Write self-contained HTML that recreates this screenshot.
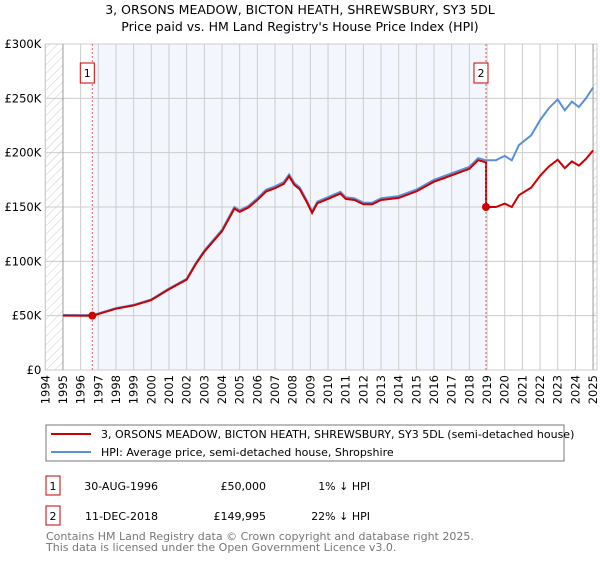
<!DOCTYPE html>
<html><head><meta charset="utf-8"><style>
body{margin:0;background:#fff;font-family:"DejaVu Sans","Liberation Sans",sans-serif;}
svg text{font-family:"DejaVu Sans","Liberation Sans",sans-serif;}
</style></head><body>
<svg id="c" width="600" height="560" xmlns="http://www.w3.org/2000/svg">
<defs><pattern id="hatch" width="6" height="6" patternUnits="userSpaceOnUse" patternTransform="rotate(45)"><line x1="0" y1="0" x2="0" y2="6" stroke="#ccc" stroke-width="1"/></pattern></defs>
<text x="300" y="14" text-anchor="middle" font-size="12.5" fill="#000">3, ORSONS MEADOW, BICTON HEATH, SHREWSBURY, SY3 5DL</text>
<text x="300" y="31" text-anchor="middle" font-size="12.5" fill="#000">Price paid vs. HM Land Registry's House Price Index (HPI)</text>
<g id="plot"></g>
<g>
<rect x="46" y="425" width="518" height="36" fill="#fff" stroke="#777"/>
<line x1="51" y1="434" x2="91" y2="434" stroke="#cc0000" stroke-width="2"/>
<text x="101" y="438" font-size="11">3, ORSONS MEADOW, BICTON HEATH, SHREWSBURY, SY3 5DL (semi-detached house)</text>
<line x1="51" y1="452" x2="91" y2="452" stroke="#5b8fd6" stroke-width="2"/>
<text x="101" y="456" font-size="11">HPI: Average price, semi-detached house, Shropshire</text>
</g>
<g font-size="11">
<rect x="46" y="476" width="14" height="19" fill="#fff" stroke="#cc0000"/>
<text x="53" y="490" text-anchor="middle">1</text>
<text x="158" y="490" text-anchor="end">30-AUG-1996</text>
<text x="266" y="490" text-anchor="end">£50,000</text>
<text x="370" y="490" text-anchor="end">1% ↓ HPI</text>
<rect x="46" y="506" width="14" height="19" fill="#fff" stroke="#cc0000"/>
<text x="53" y="520" text-anchor="middle">2</text>
<text x="158" y="520" text-anchor="end">11-DEC-2018</text>
<text x="266" y="520" text-anchor="end">£149,995</text>
<text x="370" y="520" text-anchor="end">22% ↓ HPI</text>
</g>
<text x="46" y="540" font-size="11" fill="#777">Contains HM Land Registry data © Crown copyright and database right 2025.</text>
<text x="46" y="551" font-size="11" fill="#777">This data is licensed under the Open Government Licence v3.0.</text>
</svg>
<script>
const hpiYears=[1995,1996,1996.66,1997,1998,1999,2000,2001,2002,2002.5,2003,2004,2004.7,2005,2005.5,2006,2006.5,2007,2007.5,2007.8,2008.1,2008.4,2008.8,2009.1,2009.4,2010,2010.7,2011,2011.5,2012,2012.5,2013,2014,2015,2016,2016.5,2017,2018,2018.5,2018.94,2019.5,2020,2020.4,2020.8,2021.5,2022,2022.5,2023,2023.4,2023.8,2024.2,2024.6,2025];
const hpiValues=[50600,50500,50500,52000,57000,60000,65000,75000,84000,98000,110000,129000,150000,147000,151000,158000,166000,169000,173000,180000,172000,168000,156000,146000,155000,159000,164000,159000,158000,154000,154000,158000,160000,166000,175000,178000,181000,187000,195000,193000,193000,197000,193000,207000,216000,230000,241000,249000,239000,247000,242000,250000,260000];
const saleYears=[1996.66,2018.94];
const salePrices=[50000,149995];
const yTicks=[0,50000,100000,150000,200000,250000,300000];
const yTickLabels=["£0","£50K","£100K","£150K","£200K","£250K","£300K"];
const xTicks=[1994,1995,1996,1997,1998,1999,2000,2001,2002,2003,2004,2005,2006,2007,2008,2009,2010,2011,2012,2013,2014,2015,2016,2017,2018,2019,2020,2021,2022,2023,2024,2025];
const NS="http://www.w3.org/2000/svg";
const L=45.3,R=597,T=44,B=370;
const xs=y=>L+(y-1994)*17.67;
const ys=v=>B-v/300000*(B-T);
const g=document.getElementById('plot');
function mk(t,a,p){const e=document.createElementNS(NS,t);for(const k in a)e.setAttribute(k,a[k]);(p||g).appendChild(e);return e;}
let e;
e=mk('rect',{x:L,y:T,width:R-L,height:B-T,fill:'#fff',stroke:'#ccc'});


e=mk('rect',{x:xs(saleYears[0]),y:T,width:xs(saleYears[1])-xs(saleYears[0]),height:B-T,fill:'#f3f6fd'});


e=mk('rect',{x:L,y:T,width:xs(1995)-L,height:B-T,fill:'url(#hatch)'});


e=mk('rect',{x:xs(2025),y:T,width:R-xs(2025),height:B-T,fill:'url(#hatch)'});


yTicks.forEach((v,i)=>{
 e=mk('line',{x1:L,x2:R,y1:ys(v),y2:ys(v),stroke:'#ccc'});
 
 
 e=mk('text',{x:L-4,y:ys(v)+4,'text-anchor':'end','font-size':'11.5'});e.textContent=yTickLabels[i];
 
 
});
xTicks.forEach(y=>{
 e=mk('line',{x1:xs(y),x2:xs(y),y1:T,y2:B,stroke:(y==1995||y==2025)?'#999':'#ccc'});
 
 
 e=mk('text',{x:0,y:0,'text-anchor':'end','font-size':'11.5',transform:`translate(${xs(y)+4},${B+5}) rotate(-90)`});e.textContent=y;
 
 
});
function interp(y){for(let i=1;i<hpiYears.length;i++){if(y<=hpiYears[i]){const t=(y-hpiYears[i-1])/(hpiYears[i]-hpiYears[i-1]);return hpiValues[i-1]+t*(hpiValues[i]-hpiValues[i-1]);}}return hpiValues[hpiValues.length-1];}
// HPI line
let d=hpiYears.map((y,i)=>(i?'L':'M')+xs(y).toFixed(1)+','+ys(hpiValues[i]).toFixed(1)).join('');
e=mk('path',{d:d,fill:'none',stroke:'#5b8fd6','stroke-width':2});


// price-paid line (indexed from sales)
const f1=salePrices[0]/interp(saleYears[0]),f2=salePrices[1]/interp(saleYears[1]);
let pts=[];
hpiYears.forEach((y,i)=>{if(y<saleYears[1])pts.push([y,hpiValues[i]*f1]);});
pts.push([saleYears[1],interp(saleYears[1])*f1]);
pts.push([saleYears[1],salePrices[1]]);
hpiYears.forEach((y,i)=>{if(y>saleYears[1])pts.push([y,hpiValues[i]*f2]);});
d=pts.map((p,i)=>(i?'L':'M')+xs(p[0]).toFixed(1)+','+ys(p[1]).toFixed(1)).join('');
e=mk('path',{d:d,fill:'none',stroke:'#cc0000','stroke-width':2});


saleYears.forEach((y,i)=>{
 e=mk('line',{x1:xs(y),x2:xs(y),y1:T,y2:B,stroke:'#e06060','stroke-dasharray':'2,2'});
 
 
 e=mk('circle',{cx:xs(y),cy:ys(salePrices[i]),r:4,fill:'#cc0000'});
 
 
 e=mk('rect',{x:xs(y)-12,y:63,width:14,height:20,fill:'#fff',stroke:'#cc0000'});
 
 
 e=mk('text',{x:xs(y)-5,y:77,'text-anchor':'middle','font-size':'11'});e.textContent=String(i+1);
 
 
});
</script>
</body></html>
